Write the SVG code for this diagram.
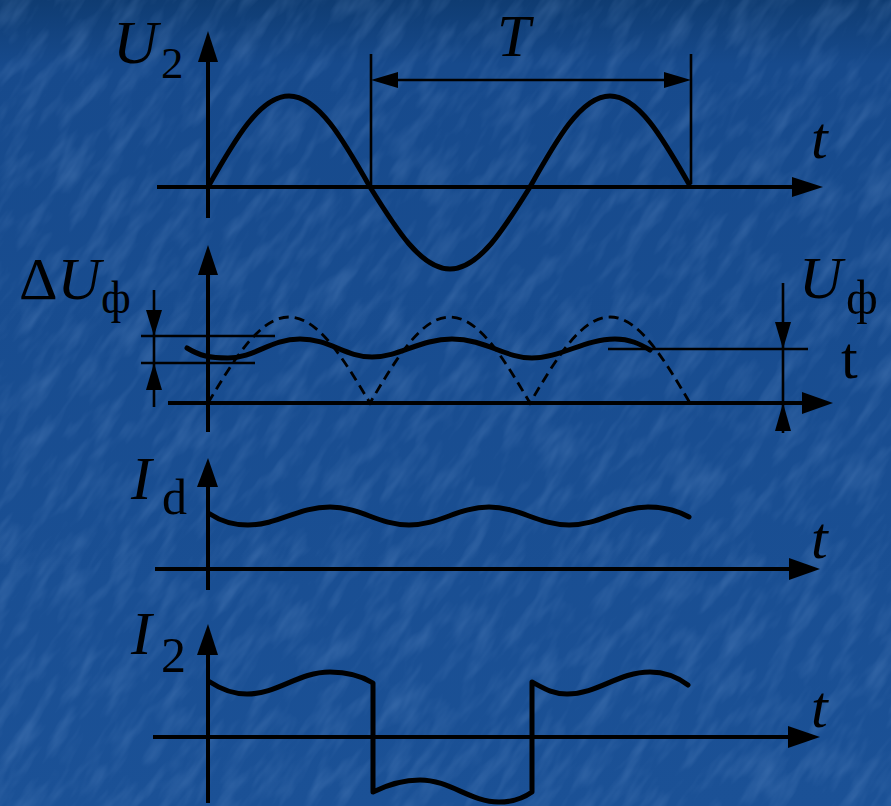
<svg xmlns="http://www.w3.org/2000/svg" width="891" height="806" viewBox="0 0 891 806">
<defs>
<style>
.ax{stroke:#000;stroke-width:4;fill:none}
.thin{stroke:#000;stroke-width:2.6;fill:none}
.wave{stroke:#000;stroke-width:5;fill:none;stroke-linejoin:round;stroke-linecap:round}
.dash{stroke:#000;stroke-width:2.8;fill:none;stroke-dasharray:10 6}
.ah{fill:#000}
.lbl{font-family:"Liberation Serif","Times New Roman",serif;fill:#000}
.it{font-style:italic}
</style>
<linearGradient id="bg" x1="0" y1="0" x2="0" y2="1">
<stop offset="0" stop-color="#0f3c72"/>
<stop offset="0.08" stop-color="#174a8c"/>
<stop offset="1" stop-color="#1b5196"/>
</linearGradient>
<filter id="tex" x="0" y="0" width="100%" height="100%">
<feTurbulence type="fractalNoise" baseFrequency="0.02 0.07" numOctaves="3" seed="7" result="n"/>
<feColorMatrix in="n" type="matrix" values="0 0 0 0 0.3  0 0 0 0 0.5  0 0 0 0 0.85  0 0 0 1.4 -0.6"/>
</filter>
</defs>
<rect width="891" height="806" fill="url(#bg)"/>
<g transform="rotate(-55 445 403)" opacity="0.28">
<rect x="-300" y="-300" width="1500" height="1400" filter="url(#tex)"/>
</g>

<g id="panel-u2">
<line class="ax" x1="208" y1="218" x2="208" y2="58"/>
<polygon class="ah" points="208,31 198,62 218,62"/>
<line class="ax" x1="157" y1="187" x2="796" y2="187"/>
<polygon class="ah" points="823,187 792,177 792,197"/>
<path class="wave" d="M208,187 C234.4,140.4 259.7,96 289,96 C318.3,96 343.6,140.4 370,187 C396.1,229 421,269 450,269 C479,269 503.9,229 530,187 C556.1,140.4 581,96 610,96 C639,96 663.9,140.4 689,184"/>
<line class="thin" x1="371" y1="54" x2="371" y2="187"/>
<line class="thin" x1="691" y1="54" x2="691" y2="184"/>
<line class="thin" x1="395" y1="80" x2="667" y2="80"/>
<polygon class="ah" points="371,80 398,72 398,88"/>
<polygon class="ah" points="691,80 664,72 664,88"/>
<text class="lbl it" x="113" y="63" font-size="62">U</text>
<text class="lbl" x="161" y="78" font-size="45">2</text>
<text class="lbl it" x="497" y="56" font-size="60">T</text>
<text class="lbl it" x="811" y="158" font-size="60">t</text>
</g>

<g id="panel-uf">
<line class="ax" x1="208" y1="432" x2="208" y2="270"/>
<polygon class="ah" points="208,245 198,275 218,275"/>
<line class="ax" x1="168" y1="403" x2="806" y2="403"/>
<polygon class="ah" points="833,403 802,392 802,414"/>
<path class="dash" d="M208,403 C234.4,359 259.7,317 289,317 C318.3,317 343.6,359 370,403 C396.1,359 421,317 450,317 C479,317 503.9,359 530,403 C556.1,359 581,317 610,317 C639,317 663.9,359 690,403"/>
<path class="wave" d="M187,348 C200,356 210,358 228,358 C255,358 270,339 300,339 C330,339 345,357 372,357 C400,357 420,339 452,339 C485,339 505,358 532,358 C560,358 585,339 615,339 C630,339 640,344 650,350"/>
<line class="thin" x1="141" y1="336" x2="275" y2="336"/>
<line class="thin" x1="141" y1="363" x2="255" y2="363"/>
<line class="thin" x1="154" y1="290" x2="154" y2="407"/>
<polygon class="ah" points="154,336 146,310 162,310"/>
<polygon class="ah" points="154,363 146,390 162,390"/>
<line class="thin" x1="608" y1="349" x2="808" y2="349"/>
<line class="thin" x1="783" y1="283" x2="783" y2="433"/>
<polygon class="ah" points="783,349 775,322 791,322"/>
<polygon class="ah" points="783,403 775,431 791,431"/>
<text class="lbl" x="19" y="299" font-size="60">Δ<tspan class="it">U</tspan></text>
<text class="lbl" x="101" y="313" font-size="46">ф</text>
<text class="lbl it" x="799" y="298" font-size="60">U</text>
<text class="lbl" x="846" y="314" font-size="49">ф</text>
<text class="lbl" x="841" y="378" font-size="60">t</text>
</g>

<g id="panel-id">
<line class="ax" x1="208" y1="590" x2="208" y2="480"/>
<polygon class="ah" points="208,458 197,487 218,487"/>
<line class="ax" x1="155" y1="569" x2="792" y2="569"/>
<polygon class="ah" points="820,569 789,558 789,580"/>
<path class="wave" d="M210,514 C222,522 233,525 248,525 C278,525 298,507 330,507 C361,507 378,525 409,525 C440,525 458,507 489,507 C520,507 538,525 569,525 C600,525 618,507 648,507 C668,507 680,512 689,517"/>
<text class="lbl it" x="131" y="499" font-size="62">I</text>
<text class="lbl" x="162" y="514" font-size="50">d</text>
<text class="lbl it" x="811" y="558" font-size="60">t</text>
</g>

<g id="panel-i2">
<line class="ax" x1="208" y1="803" x2="208" y2="648"/>
<polygon class="ah" points="208,624 197,655 218,655"/>
<line class="ax" x1="153" y1="737" x2="792" y2="737"/>
<polygon class="ah" points="820,737 788,726 788,748"/>
<path class="wave" d="M210,682 C222,690 233,694 247,694 C278,694 298,672 330,672 C350,672 365,678 373,683 L373,792 C385,786 400,780 420,780 C450,780 470,802 499,802 C515,802 525,797 532,792 L532,682 C545,689 553,694 567,694 C598,694 618,672 650,672 C668,672 680,679 688,685"/>
<text class="lbl it" x="131" y="654" font-size="62">I</text>
<text class="lbl" x="161" y="672" font-size="50">2</text>
<text class="lbl it" x="811" y="727" font-size="60">t</text>
</g>
</svg>
